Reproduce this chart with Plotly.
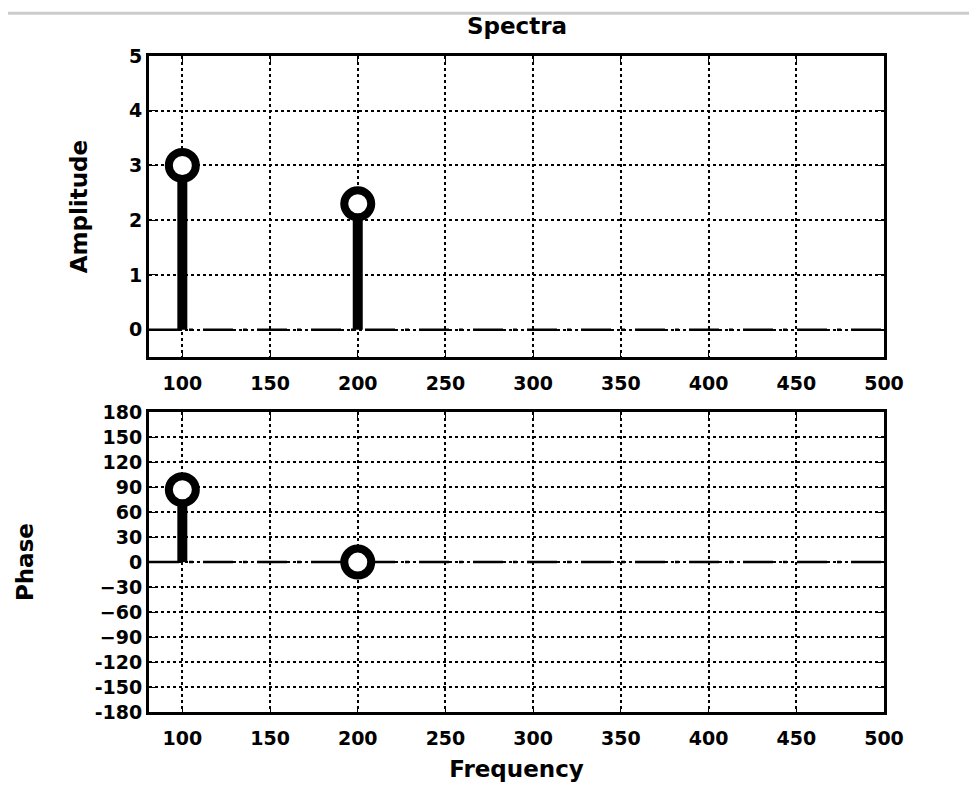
import plotly.graph_objects as go

frequency = [100, 200]
amplitude = [3.0, 2.3]
phase = [87, 0]
x_ticks = [100, 150, 200, 250, 300, 350, 400, 450, 500]
amp_ticks = [0, 1, 2, 3, 4, 5]
phase_ticks = [180, 150, 120, 90, 60, 30, 0, -30, -60, -90, -120, -150, -180]
phase_tick_text = ["180", "150", "120", "90", "60", "30", "0", "\u221230", "\u221260", "\u221290", "-120", "-150", "-180"]

FONT = "DejaVu Sans, Liberation Sans, sans-serif"
TICKFONT = dict(family=FONT, size=19, color="black", weight="bold")
TITLEFONT = dict(family=FONT, size=23, color="black", weight="bold")
BASEDASH = "30px,10px,4px,10px"

def stems(xs, ys):
    sx, sy = [], []
    for x, y in zip(xs, ys):
        sx += [x, x, None]
        sy += [0, y, None]
    return sx, sy

fig = go.Figure()
for vals, ya in [(amplitude, "y"), (phase, "y2")]:
    xa = "x" if ya == "y" else "x2"
    sx, sy = stems(frequency, vals)
    fig.add_trace(go.Scatter(x=sx, y=sy, mode="lines", line=dict(color="black", width=10),
                             xaxis=xa, yaxis=ya, showlegend=False, hoverinfo="skip"))
    fig.add_trace(go.Scatter(x=frequency, y=vals, mode="markers",
                             marker=dict(symbol="circle", size=27, color="white",
                                         line=dict(color="black", width=8)),
                             xaxis=xa, yaxis=ya, showlegend=False, cliponaxis=False))

xcommon = dict(range=[81, 500], tickvals=x_ticks, ticks="inside", ticklen=6, tickcolor="black",
               showline=True, linecolor="black", linewidth=3, mirror="ticks",
               showgrid=True, gridcolor="black", griddash="dot", gridwidth=1.5,
               zeroline=False, tickfont=TICKFONT, ticklabelstandoff=7)
ycommon = dict(ticks="inside", ticklen=6, tickcolor="black",
               showline=True, linecolor="black", linewidth=3, mirror="ticks",
               showgrid=True, gridcolor="black", griddash="dot", gridwidth=1.5, zeroline=False,
               tickfont=TICKFONT)
fig.update_layout(
    width=977, height=789,
    paper_bgcolor="white", plot_bgcolor="white",
    margin=dict(l=141, r=101, t=48, b=85),
    xaxis=dict(domain=[0, 1], anchor="y", **xcommon),
    xaxis2=dict(domain=[0, 1], anchor="y2",
                title=dict(text="Frequency", font=TITLEFONT, standoff=14),
                **xcommon),
    yaxis=dict(domain=[0.541, 1], anchor="x", range=[-0.5, 5], tickvals=amp_ticks,
               title=dict(text="Amplitude", font=TITLEFONT, standoff=35), **ycommon),
    yaxis2=dict(domain=[0, 0.457], anchor="x2", range=[-180, 180], tickvals=phase_ticks,
                ticktext=phase_tick_text,
                title=dict(text="Phase", font=TITLEFONT, standoff=55), **ycommon),
    title=dict(text="Spectra", x=0.521, xanchor="center", y=0.977, yanchor="middle",
               font=TITLEFONT),
    shapes=[
        dict(type="line", xref="x domain", yref="y", x0=0, x1=1, y0=0, y1=0,
             line=dict(color="black", width=2.5, dash=BASEDASH), layer="below"),
        dict(type="line", xref="x2 domain", yref="y2", x0=0, x1=1, y0=0, y1=0,
             line=dict(color="black", width=2.5, dash=BASEDASH), layer="below"),
        dict(type="line", xref="paper", yref="paper", x0=-0.2, x1=1.2, y0=1.065, y1=1.065,
             line=dict(color="#cccccc", width=3)),
    ],
)
fig.write_html("out.html")
